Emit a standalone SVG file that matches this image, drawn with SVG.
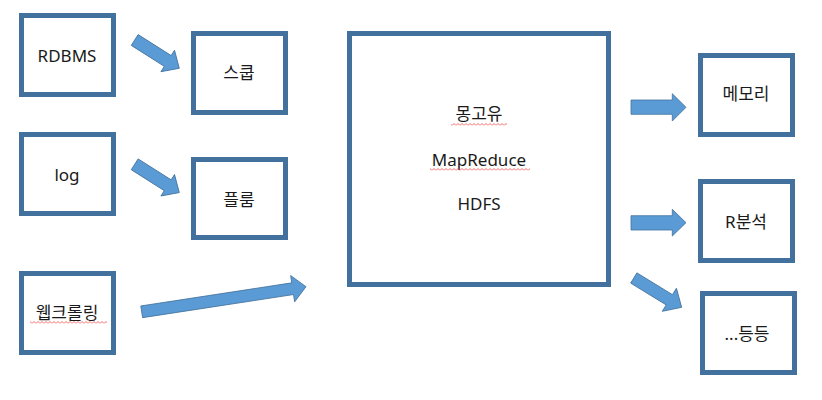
<svg xmlns="http://www.w3.org/2000/svg" width="822" height="400" viewBox="0 0 822 400">
<defs>
<style>
.box{fill:#fff;stroke:#41719C;stroke-width:5}
.arr{fill:#5B9BD5;stroke:#41719C;stroke-width:0.8}
.t{font-family:"Noto Sans","Noto Sans CJK KR",sans-serif;font-size:17px;fill:#1a1a1a;text-anchor:middle}
.sq{fill:url(#squiggle)}
</style>
<pattern id="squiggle" x="0" y="0" width="4" height="3" patternUnits="userSpaceOnUse">
<path d="M0,2.5 L2,0.5 L4,2.5" fill="none" stroke="#f04040" stroke-width="0.8"/>
</pattern>
</defs>
<rect width="822" height="400" fill="#fff"/>
<g id="rdbms"><rect class="box" x="21.5" y="15.5" width="92" height="79"/><text class="t" x="67" y="62">RDBMS</text></g>
<g id="sqoop"><rect class="box" x="193.5" y="33.5" width="92" height="79"/><text class="t" x="239" y="79">스쿱</text></g>
<g id="log"><rect class="box" x="21.5" y="134.5" width="92" height="79"/><text class="t" x="67" y="181">log</text></g>
<g id="flume"><rect class="box" x="193.5" y="159.5" width="92" height="78"/><text class="t" x="239" y="206">플룸</text></g>
<g id="crawl"><rect class="box" x="21.5" y="273.5" width="92" height="79"/><text class="t" x="67" y="319">웹크롤링</text><rect class="sq" x="30" y="321" width="77" height="3"/></g>
<g id="hadoop"><rect class="box" x="349.5" y="33.5" width="259" height="251"/>
<text class="t" x="479" y="120">몽고유</text><rect class="sq" x="451" y="123" width="56" height="3"/>
<text class="t" x="479" y="166">MapReduce</text><rect class="sq" x="430" y="168" width="100" height="3"/>
<text class="t" x="479" y="210">HDFS</text></g>
<g id="memory"><rect class="box" x="700.5" y="55.5" width="92" height="79"/><text class="t" x="746" y="100">메모리</text></g>
<g id="ranalysis"><rect class="box" x="700.5" y="181.5" width="92" height="79"/><text class="t" x="746" y="228">R분석</text></g>
<g id="etc"><rect class="box" x="702.5" y="293.5" width="92" height="79"/><text class="t" x="747" y="340">...등등</text></g>
<g id="connectors">
<path class="arr" transform="translate(134.7,40) rotate(32.4)" d="M0,-6.4 H39.1 V-12.7 L52.8,0 L39.1,12.7 V6.4 H0 Z"/>
<path class="arr" transform="translate(134.7,164.3) rotate(32.4)" d="M0,-6.4 H39.1 V-12.7 L52.8,0 L39.1,12.7 V6.4 H0 Z"/>
<path class="arr" transform="translate(141.7,311.8) rotate(-8.7)" d="M0,-5.9 H152.7 V-13.3 L166.2,0 L152.7,13.3 V5.9 H0 Z"/>
<path class="arr" d="M631,100 H672.3 V93.7 L686,107.3 L672.3,121 V114.3 H631 Z"/>
<path class="arr" d="M631,215.7 H672.3 V209.3 L686,222.7 L672.3,236 V230 H631 Z"/>
<path class="arr" transform="translate(633.8,278) rotate(31.5)" d="M0,-6 H41.7 V-13.5 L56.1,0 L41.7,13.5 V6 H0 Z"/>
</g>
</svg>
